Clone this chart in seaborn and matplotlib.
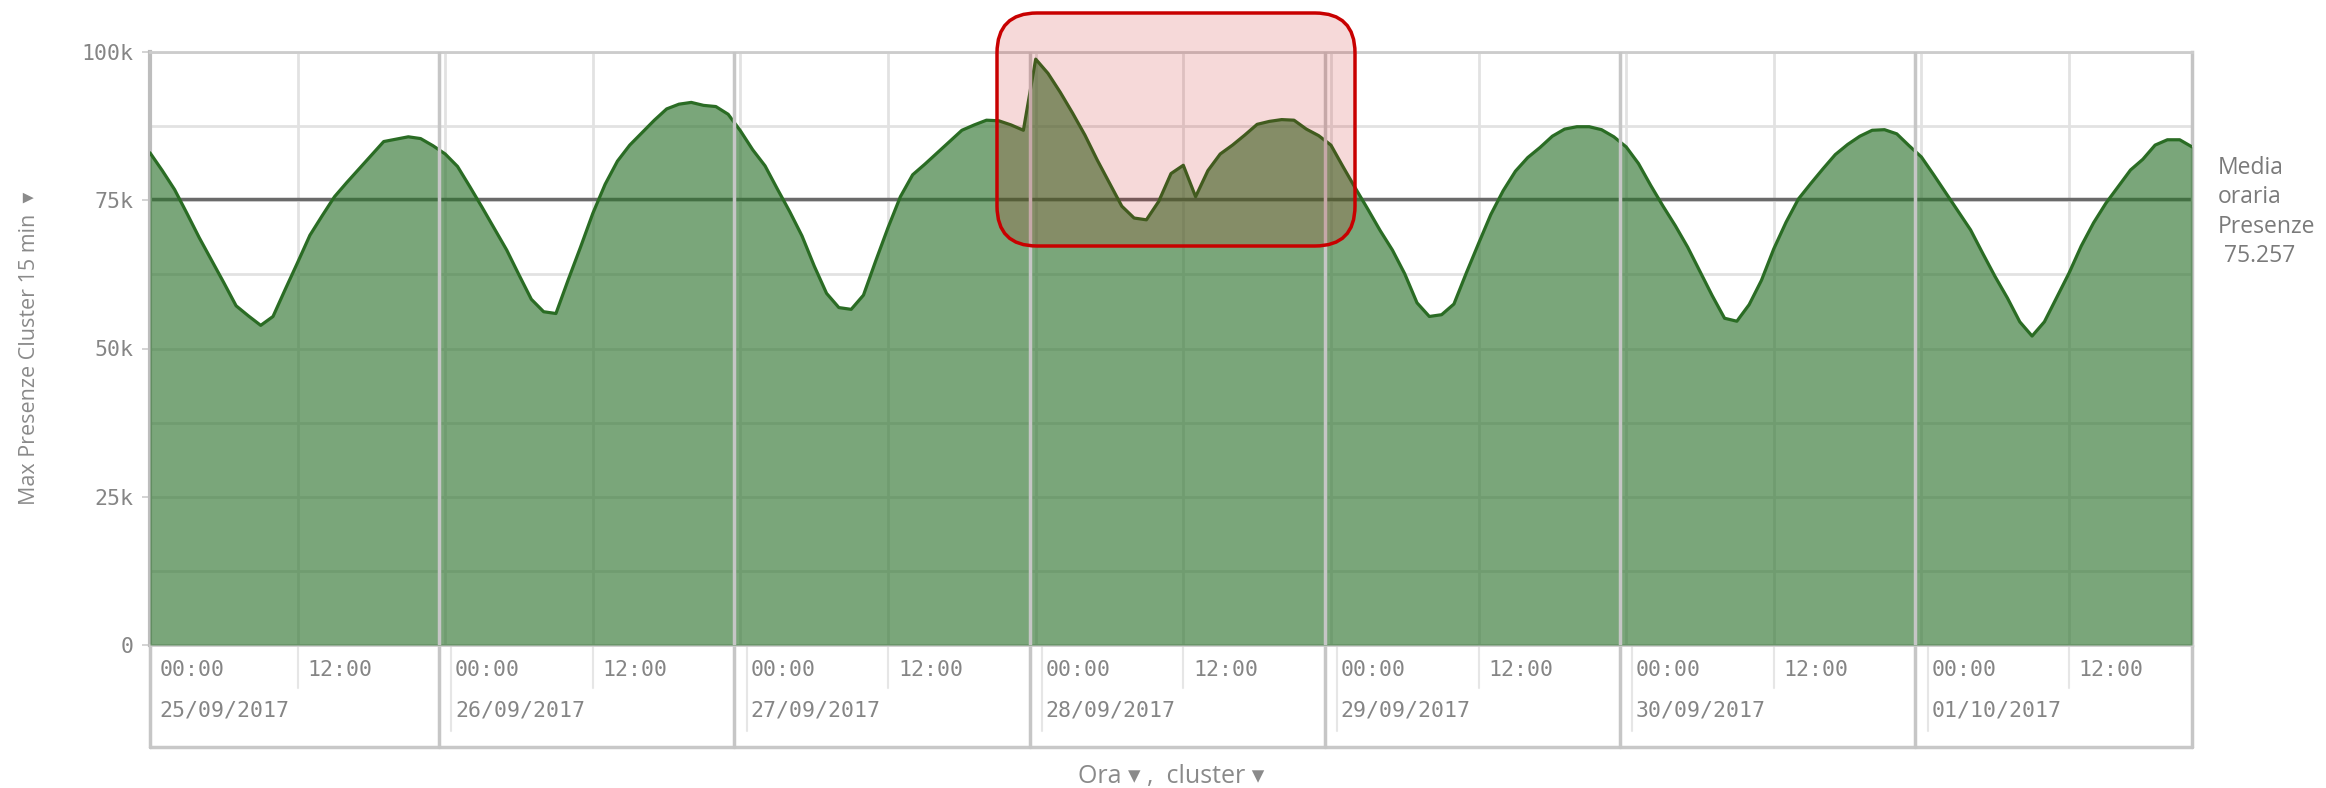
import matplotlib
matplotlib.use("Agg")
import matplotlib.pyplot as plt
import matplotlib.transforms as mtransforms
from matplotlib.patches import FancyBboxPatch
import seaborn as sns
import pandas as pd
import numpy as np

giorni = ["25/09/2017", "26/09/2017", "27/09/2017", "28/09/2017",
          "29/09/2017", "30/09/2017", "01/10/2017"]
ore_tick = ["00:00", "12:00"]

# max presenze per ora (migliaia)
g25 = [83.0, 80.0, 76.8, 72.8, 68.7, 64.9, 61.1, 57.2, 55.5, 53.9, 55.4, 60.0,
       64.5, 69.1, 72.4, 75.6, 78.0, 80.3, 82.6, 84.9, 85.3, 85.7, 85.4, 84.2]
g26 = [82.8, 80.7, 77.3, 73.8, 70.2, 66.6, 62.4, 58.3, 56.2, 55.9, 61.6, 67.1,
       72.8, 77.7, 81.6, 84.3, 86.4, 88.5, 90.4, 91.2, 91.5, 91.0, 90.8, 89.5]
g27 = [86.7, 83.5, 80.8, 76.9, 73.1, 69.0, 63.9, 59.3, 56.9, 56.6, 59.0, 64.8,
       70.4, 75.6, 79.3, 81.1, 83.0, 84.9, 86.8, 87.7, 88.5, 88.4, 87.7, 86.8]
g28 = [98.8, 96.4, 93.2, 89.7, 86.0, 81.8, 77.9, 74.0, 72.0, 71.7, 74.8, 79.5,
       80.9, 75.6, 80.0, 82.8, 84.3, 86.0, 87.8, 88.3, 88.6, 88.5, 87.0, 85.9]
g29 = [84.3, 80.6, 77.0, 73.5, 69.9, 66.6, 62.6, 57.7, 55.4, 55.7, 57.5, 62.7,
       67.7, 72.6, 76.6, 79.9, 82.2, 83.9, 85.8, 87.0, 87.4, 87.4, 86.9, 85.7]
g30 = [84.0, 81.2, 77.5, 74.0, 70.7, 67.1, 63.0, 58.9, 55.1, 54.6, 57.4, 61.5,
       66.8, 71.3, 75.2, 77.8, 80.3, 82.7, 84.4, 85.8, 86.8, 86.9, 86.2, 84.2]
g01 = [82.3, 79.3, 76.2, 73.1, 70.0, 66.0, 62.1, 58.5, 54.5, 52.1, 54.5, 58.6,
       62.7, 67.3, 71.2, 74.5, 77.3, 80.1, 81.9, 84.3, 85.2, 85.2, 84.0]

media_oraria = 75257

presenze = np.array(g25 + g26 + g27 + g28 + g29 + g30 + g01) * 1000
df = pd.DataFrame({"ora": np.arange(len(presenze)), "presenze": presenze})
x_max = df["ora"].max()

sns.set_style("white")
mono = "DejaVu Sans Mono"
sans = ["Open Sans", "DejaVu Sans"]
grigio = "#858585"
fs_tick = 15.5

W, H = 2326, 788
fig = plt.figure(figsize=(W / 100, H / 100), dpi=100)
ax = fig.add_axes([150 / W, 1 - 645 / H, (2192 - 150) / W, (645 - 52) / H])

# griglia
for y in np.arange(12500, 100001, 12500):
    ax.axhline(y, color="#e2e2e2", lw=2, zorder=1)
for x in range(0, 168, 12):
    ax.axvline(x, color="#e2e2e2", lw=2, zorder=1)

ax.axhline(media_oraria, color="#6a6a6a", lw=2.5, zorder=2)

ax.fill_between(df["ora"], df["presenze"], color="#2d732d", alpha=0.63,
                lw=0, zorder=3)
sns.lineplot(data=df, x="ora", y="presenze", ax=ax, color="#2a6c24",
             lw=2.3, zorder=4)

# separatori tra i giorni
for k in range(1, 7):
    ax.axvline(24 * k - 0.5, color="#c6c6c6", lw=2.5, zorder=5)

ax.set_xlim(0, x_max)
ax.set_ylim(0, 100000)
ax.set_xlabel("")
ax.set_ylabel("")
ax.set_xticks([])
ax.set_yticks([0, 25000, 50000, 75000, 100000])
ax.set_yticklabels(["0", "25k", "50k", "75k", "100k"], family=mono,
                   fontsize=fs_tick, color=grigio)
ax.tick_params(axis="y", length=6, width=1.2, color="#cccccc", pad=6, left=True)
for lato, c, w in [("left", "#bdbdbd", 3), ("top", "#cccccc", 2),
                   ("right", "#c4c4c4", 2.5), ("bottom", "#cccccc", 2)]:
    ax.spines[lato].set_color(c)
    ax.spines[lato].set_linewidth(w)

# riquadro etichette asse x
trans = mtransforms.blended_transform_factory(ax.transData, ax.transAxes)
yb = -0.172
ax.plot([0, x_max], [yb, yb], transform=trans, clip_on=False, color="#c8c8c8", lw=2.5)
for x in [0, x_max] + [24 * k - 0.5 for k in range(1, 7)]:
    ax.plot([x, x], [0, yb], transform=trans, clip_on=False, color="#c6c6c6", lw=2.5)
for k, giorno in enumerate(giorni):
    ax.plot([24 * k + 12, 24 * k + 12], [0, -0.072], transform=trans,
            clip_on=False, color="#e6e6e6", lw=1.5)
    if k > 0:
        ax.plot([24 * k + 0.5, 24 * k + 0.5], [0, -0.145], transform=trans,
                clip_on=False, color="#e6e6e6", lw=1.5)
    ax.text(24 * k + 0.8, -0.043, ore_tick[0], transform=trans, ha="left",
            va="center", family=mono, fontsize=fs_tick, color=grigio)
    ax.text(24 * k + 12.8, -0.043, ore_tick[1], transform=trans, ha="left",
            va="center", family=mono, fontsize=fs_tick, color=grigio)
    ax.text(24 * k + 0.8, -0.111, giorno, transform=trans, ha="left",
            va="center", family=mono, fontsize=fs_tick, color=grigio)

# etichetta linea media
lab_trans = mtransforms.blended_transform_factory(ax.transAxes, ax.transData)
ax.text(1.0127, 73000, "Media\noraria\nPresenze\n 75.257", transform=lab_trans,
        ha="left", va="center", family=sans, fontsize=16.5, color="#7a7a7a",
        linespacing=1.3)

fig.text(30 / W, 1 - 348 / H, "Max Presenze Cluster 15 min  \u25BE", rotation=90,
         ha="center", va="center", family=sans, fontsize=15.5, color="#8a8a8a")
fig.text(1171 / W, 1 - 777 / H, "Ora \u25BE ,  cluster \u25BE", ha="center",
         va="center", family=sans, fontsize=18, color="#8a8a8a")

# evidenziazione 28/09
box = FancyBboxPatch((997, H - 246), 1355 - 997, 246 - 13,
                     boxstyle="round,pad=0,rounding_size=40",
                     transform=mtransforms.IdentityTransform(),
                     facecolor=(0.78, 0, 0, 0.15), edgecolor="#c80000",
                     lw=2.5, zorder=10)
fig.add_artist(box)

fig.savefig("out.png", dpi=100)
